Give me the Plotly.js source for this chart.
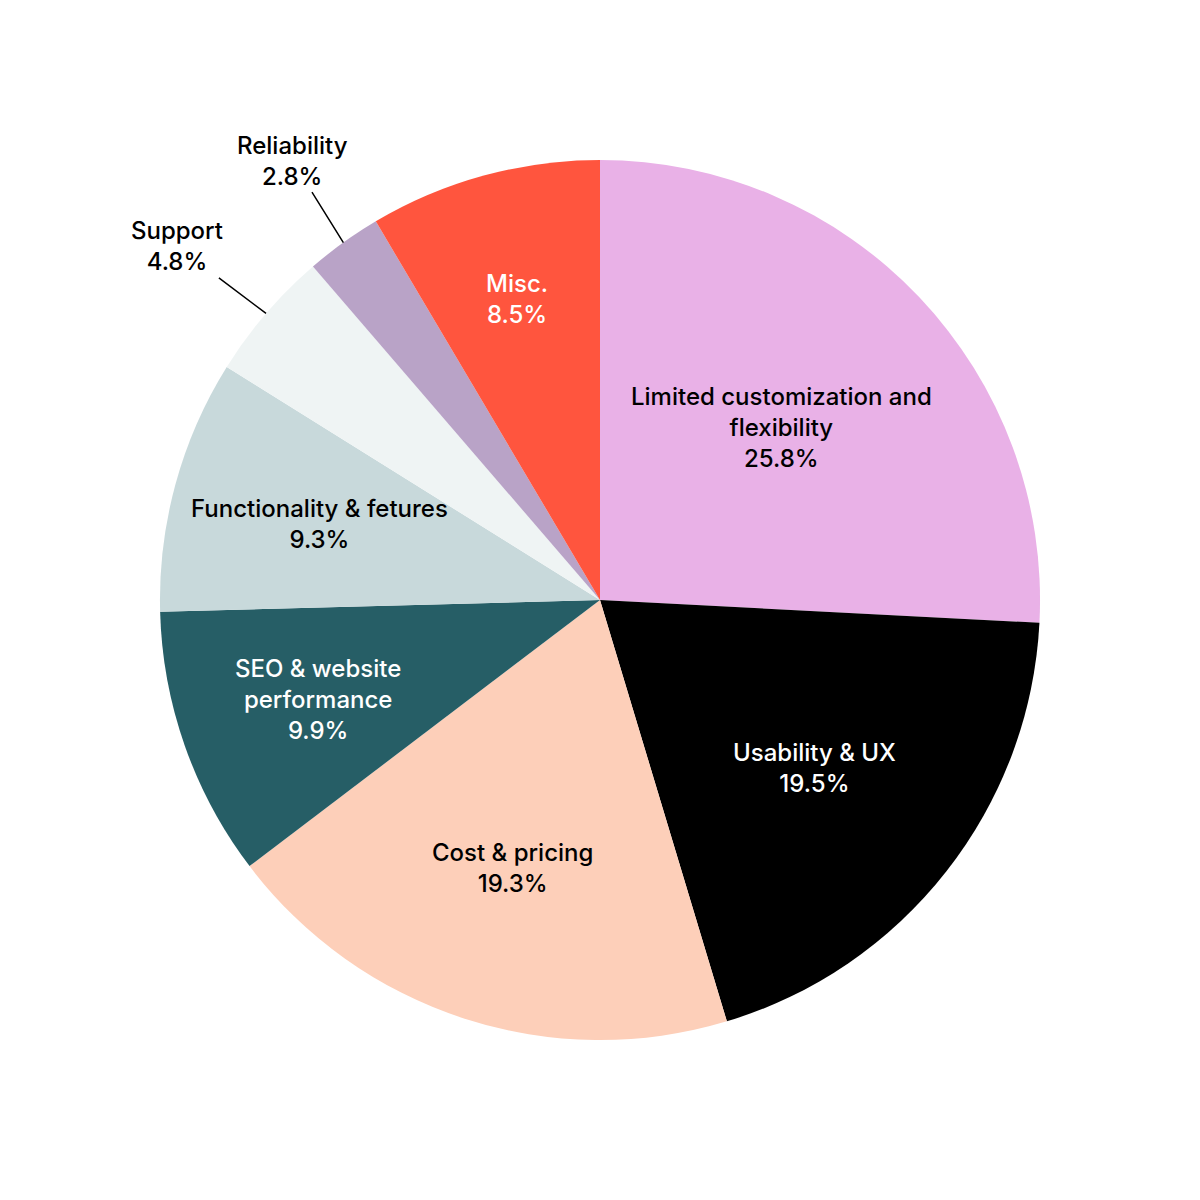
<!DOCTYPE html>
<html>
<head>
<meta charset="utf-8">
<script src="https://cdn.plot.ly/plotly-3.0.1.min.js"></script>
<style>
  html, body { margin: 0; padding: 0; background: #fff; }
  #chart { width: 1200px; height: 1200px; }
</style>
</head>
<body>
<div id="chart"></div>
<script>
// slices, clockwise from 12 o'clock
const labels = [
    'Limited customization and<br>flexibility',
    'Usability & UX',
    'Cost & pricing',
    'SEO & website<br>performance',
    'Functionality & fetures',
    'Support',
    'Reliability',
    'Misc.'
];
const shares = [25.8, 19.5, 19.3, 9.9, 9.3, 4.8, 2.8, 8.5];
const sliceColors = ['#E9B1E7', '#000000', '#FDCFB9', '#265E66', '#C8D9DB', '#EFF4F4', '#B9A3C7', '#FF553E'];
const textColors = ['#000', '#fff', '#000', '#fff', '#000', '#000', '#000', '#fff'];
// label distance from centre (fraction of radius); null = outside with a pointer line
const labelRadius = [0.57, 0.62, 0.64, 0.68, 0.66, null, null, 0.71];
// pixel offsets of the pointer labels from the slice edge
const pointerOffsets = { 5: [-89, -67], 6: [-51, -82] };

const font = { family: 'Inter, sans-serif', size: 24, weight: 500 };
const dom = [0.1333, 0.8667];
const radius = (dom[1] - dom[0]) / 2;
const total = shares.reduce((a, b) => a + b, 0);

const annotations = [];
let cum = 0;
shares.forEach((v, i) => {
    const mid = (cum + v / 2) / total * 2 * Math.PI;
    cum += v;
    const txt = labels[i] + '<br>' + v.toFixed(1) + '%';
    const base = { xref: 'paper', yref: 'paper', text: txt, font: { ...font, color: textColors[i] } };
    if (labelRadius[i] !== null) {
        annotations.push({
            ...base,
            x: 0.5 + labelRadius[i] * radius * Math.sin(mid),
            y: 0.5 + labelRadius[i] * radius * Math.cos(mid),
            xanchor: 'center', yanchor: 'middle',
            showarrow: false
        });
    } else {
        annotations.push({
            ...base,
            x: 0.5 + radius * Math.sin(mid),
            y: 0.5 + radius * Math.cos(mid),
            showarrow: true, arrowhead: 0, arrowwidth: 1.5,
            arrowcolor: '#000', standoff: 0,
            ax: pointerOffsets[i][0], ay: pointerOffsets[i][1]
        });
    }
});

const trace = {
    type: 'pie',
    labels: labels,
    values: shares,
    sort: false,
    direction: 'clockwise',
    rotation: 0,
    marker: { colors: sliceColors, line: { width: 0 } },
    textinfo: 'none',
    hoverinfo: 'none',
    domain: { x: dom, y: dom }
};

const layout = {
    width: 1200,
    height: 1200,
    margin: { l: 0, r: 0, t: 0, b: 0 },
    showlegend: false,
    paper_bgcolor: '#fff',
    annotations: annotations
};

Plotly.newPlot('chart', [trace], layout, { displayModeBar: false, staticPlot: true });
</script>
</body>
</html>
